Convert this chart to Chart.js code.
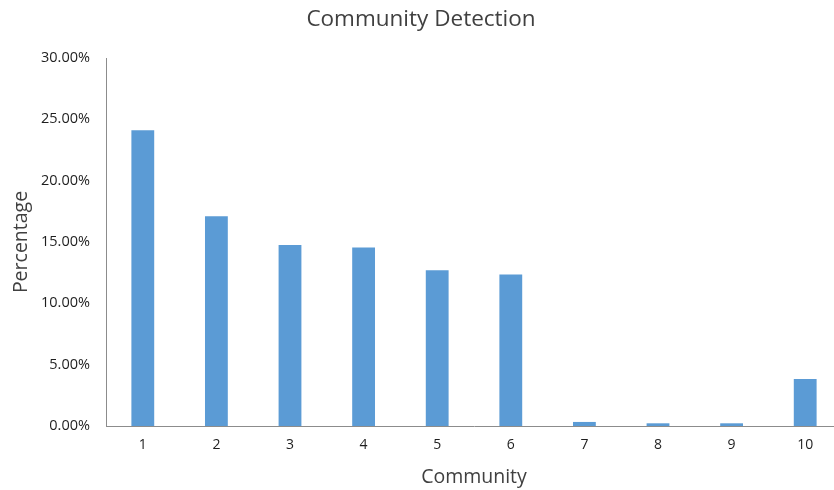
<!DOCTYPE html>
<html>
<head>
<meta charset="utf-8">
<script src="https://cdn.jsdelivr.net/npm/chart.js@4/dist/chart.umd.min.js"></script>
<style>
  html, body { margin: 0; padding: 0; background: #fff; overflow: hidden; }
  #wrap { width: 842px; height: 490px; position: relative; }
</style>
</head>
<body>
<div id="wrap"><canvas id="chart"></canvas></div>
<script>
const categories = ['1', '2', '3', '4', '5', '6', '7', '8', '9', '10'];
const percentages = [24.1, 17.1, 14.75, 14.55, 12.7, 12.35, 0.33, 0.22, 0.22, 3.83];
const yTicks = [0, 5, 10, 15, 20, 25, 30];

const FONT = "'Open Sans', 'Noto Sans', sans-serif";

new Chart(document.getElementById('chart'), {
  type: 'bar',
  data: {
    labels: categories,
    datasets: [{
      label: 'Percentage',
      data: percentages,
      backgroundColor: '#5B9BD5',
      borderWidth: 0,
      barPercentage: 0.31,
      categoryPercentage: 1.0
    }]
  },
  options: {
    responsive: true,
    maintainAspectRatio: false,
    animation: false,
    layout: { padding: 0 },
    plugins: {
      legend: { display: false },
      tooltip: { enabled: false },
      title: {
        display: true,
        text: 'Community Detection',
        color: '#404040',
        font: { family: FONT, size: 22.5, weight: 'normal' },
        padding: { top: 6, bottom: 25 }
      }
    },
    scales: {
      x: {
        grid: { display: false, drawTicks: false },
        border: { display: true, color: '#8C8C8C', width: 1 },
        ticks: { color: '#1E1E1E', font: { family: FONT, size: 14 }, padding: 11, maxRotation: 0 },
        title: {
          display: true,
          text: 'Community',
          color: '#404040',
          font: { family: FONT, size: 19.5 },
          padding: { top: 0, bottom: 1 }
        },
        afterFit: (s) => { s.height = 64; }
      },
      y: {
        min: 0,
        max: 30,
        afterBuildTicks: (s) => { s.ticks = yTicks.map(v => ({ value: v })); },
        grid: { display: false, drawTicks: false },
        border: { display: true, color: '#8C8C8C', width: 1 },
        ticks: {
          color: '#1E1E1E',
          font: { family: FONT, size: 14.5 },
          padding: 16,
          callback: (v) => v.toFixed(2) + '%'
        },
        title: {
          display: true,
          text: 'Percentage',
          color: '#404040',
          font: { family: FONT, size: 19.5 },
          padding: { top: 10, bottom: 0 }
        },
        afterFit: (s) => { s.width = 106; }
      }
    }
  }
});
</script>
</body>
</html>
